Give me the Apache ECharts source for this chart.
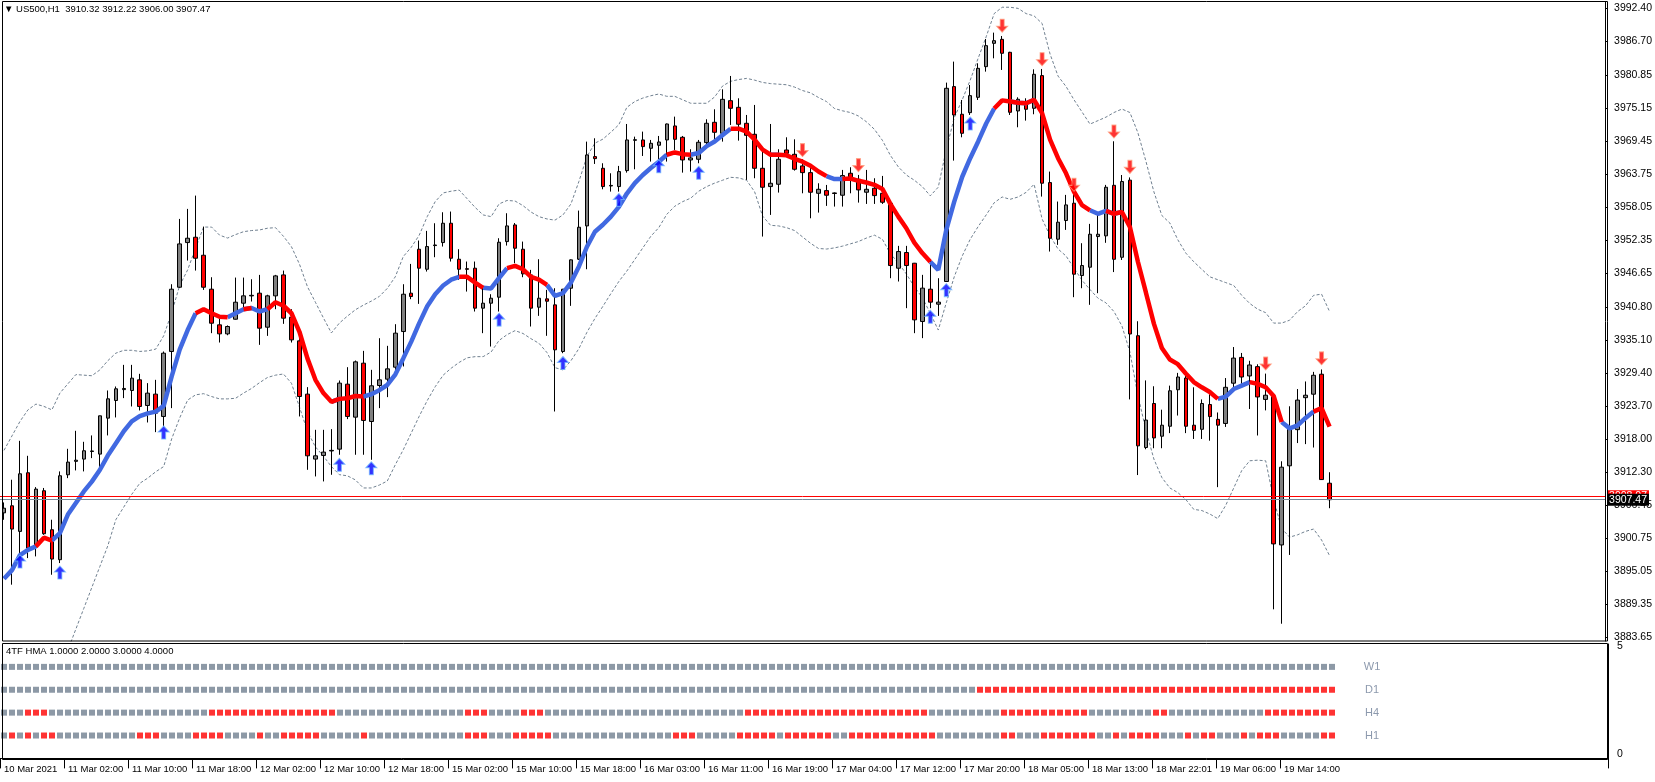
<!DOCTYPE html>
<html>
<head>
<meta charset="utf-8">
<title>US500,H1</title>
<script src="https://cdn.jsdelivr.net/npm/echarts@6/dist/echarts.min.js"></script>
<style>
  html, body { margin: 0; padding: 0; background: #ffffff; }
  #chart { width: 1655px; height: 782px; }
</style>
</head>
<body>
<div id="chart"></div>
<script>
const FONT = '"Liberation Sans", Arial, sans-serif';
const SLOTS = 201; // 167 bars + empty shift area on the right

// time labels, one every 8 bars
const timeLabels = ['10 Mar 2021', '11 Mar 02:00', '11 Mar 10:00', '11 Mar 18:00', '12 Mar 02:00', '12 Mar 10:00',
  '12 Mar 18:00', '15 Mar 02:00', '15 Mar 10:00', '15 Mar 18:00', '16 Mar 03:00', '16 Mar 11:00', '16 Mar 19:00',
  '17 Mar 04:00', '17 Mar 12:00', '17 Mar 20:00', '18 Mar 05:00', '18 Mar 13:00', '18 Mar 22:01', '19 Mar 06:00',
  '19 Mar 14:00'];

const priceTicks = [3992.40, 3986.70, 3980.85, 3975.15, 3969.45, 3963.75, 3958.05, 3952.35, 3946.65, 3940.80,
  3935.10, 3929.40, 3923.70, 3918.00, 3912.30, 3906.45, 3900.75, 3895.05, 3889.35, 3883.65];

const opens = [3905.20, 3906.42, 3901.99, 3912.13, 3899.28, 3909.02, 3902.28, 3897.10, 3911.78, 3914.10,
  3914.49, 3915.80, 3915.35, 3921.57, 3924.62, 3926.50, 3926.35, 3928.19, 3923.76, 3925.72,
  3921.86, 3933.09, 3944.20, 3951.92, 3952.84, 3949.73, 3943.86, 3937.70, 3936.14, 3938.67,
  3941.44, 3942.70, 3943.17, 3937.29, 3942.71, 3946.33, 3939.02, 3934.93, 3925.72, 3914.49,
  3915.12, 3915.90, 3916.21, 3927.44, 3921.74, 3931.07, 3920.99, 3927.21, 3928.31, 3930.38,
  3936.54, 3943.17, 3950.77, 3947.31, 3951.40, 3951.92, 3955.26, 3949.04, 3947.40, 3947.49,
  3940.58, 3941.44, 3942.48, 3952.09, 3954.97, 3950.77, 3946.33, 3940.75, 3942.19, 3941.15,
  3933.09, 3944.03, 3949.04, 3954.80, 3966.78, 3964.76, 3961.70, 3961.60, 3964.36, 3969.60,
  3969.66, 3968.22, 3968.74, 3969.66, 3972.08, 3970.12, 3966.20, 3966.32, 3969.20, 3972.71,
  3970.81, 3976.45, 3975.30, 3972.54, 3970.64, 3964.76, 3961.60, 3962.00, 3967.93, 3967.18,
  3965.17, 3964.01, 3960.44, 3960.90, 3960.50, 3960.10, 3963.90, 3962.86, 3960.62, 3961.31,
  3960.44, 3958.72, 3947.49, 3950.20, 3948.35, 3938.28, 3943.86, 3941.27, 3945.19, 3978.88,
  3974.10, 3974.38, 3977.03, 3982.33, 3986.36, 3987.05, 3984.81, 3974.67, 3976.29, 3975.13,
  3980.78, 3962.29, 3952.50, 3955.73, 3958.72, 3946.22, 3947.66, 3952.96, 3953.08, 3961.82,
  3949.38, 3962.71, 3935.82, 3916.49, 3924.10, 3918.45, 3920.17, 3926.48, 3928.50, 3920.35,
  3919.64, 3923.92, 3921.36, 3920.65, 3927.61, 3932.07, 3928.86, 3930.47, 3924.81, 3925.29,
  3899.65, 3913.33, 3919.58, 3925.11, 3925.71, 3929.16, 3910.32];
const highs = [3907.00, 3910.92, 3917.65, 3915.06, 3909.65, 3909.50, 3904.01, 3912.36, 3916.27, 3919.38,
  3917.48, 3918.58, 3922.00, 3926.35, 3927.04, 3930.78, 3930.78, 3929.23, 3927.62, 3928.19,
  3933.09, 3944.72, 3956.01, 3957.74, 3960.04, 3954.68, 3945.93, 3939.25, 3937.60, 3945.87,
  3945.87, 3945.58, 3946.33, 3942.90, 3946.33, 3947.08, 3940.40, 3935.68, 3926.93, 3919.55,
  3919.55, 3919.67, 3928.08, 3930.38, 3931.53, 3933.20, 3929.92, 3935.39, 3934.07, 3937.81,
  3944.72, 3948.23, 3952.27, 3953.94, 3955.26, 3957.16, 3957.28, 3950.77, 3948.64, 3948.64,
  3944.15, 3942.99, 3952.67, 3956.99, 3955.30, 3952.09, 3947.20, 3949.04, 3943.74, 3944.03,
  3943.90, 3949.00, 3957.45, 3969.37, 3969.95, 3965.63, 3963.90, 3965.17, 3972.42, 3970.23,
  3971.10, 3969.66, 3970.35, 3972.50, 3973.69, 3970.35, 3968.05, 3969.66, 3973.23, 3974.96,
  3978.41, 3980.72, 3976.86, 3973.98, 3975.71, 3968.39, 3972.42, 3968.05, 3970.12, 3969.77,
  3966.32, 3965.17, 3962.17, 3961.88, 3960.60, 3964.48, 3964.94, 3963.61, 3964.48, 3963.04,
  3963.44, 3958.80, 3951.35, 3951.35, 3948.40, 3946.34, 3949.05, 3945.76, 3979.57, 3983.20,
  3976.57, 3979.16, 3982.91, 3987.11, 3988.21, 3987.63, 3984.90, 3977.03, 3976.86, 3981.87,
  3981.93, 3964.19, 3959.01, 3960.16, 3961.60, 3951.81, 3955.15, 3956.99, 3961.89, 3969.43,
  3963.60, 3963.18, 3938.32, 3928.09, 3927.08, 3923.03, 3927.19, 3929.39, 3929.27, 3926.90,
  3924.81, 3925.71, 3922.55, 3928.50, 3933.86, 3932.84, 3931.48, 3930.88, 3929.27, 3925.53,
  3914.11, 3923.62, 3926.60, 3927.91, 3929.57, 3929.99, 3912.22];
const lows = [3904.00, 3892.78, 3897.38, 3897.38, 3897.67, 3901.40, 3894.50, 3896.52, 3911.20, 3912.53,
  3912.36, 3914.66, 3912.64, 3918.58, 3921.69, 3925.03, 3923.59, 3922.90, 3920.82, 3919.15,
  3920.13, 3923.30, 3944.10, 3948.81, 3947.08, 3943.74, 3936.26, 3934.64, 3935.90, 3938.60,
  3940.29, 3941.73, 3934.24, 3935.79, 3940.40, 3937.87, 3934.64, 3921.86, 3912.64, 3911.49,
  3910.63, 3911.78, 3915.24, 3921.40, 3915.24, 3915.24, 3914.37, 3923.30, 3925.20, 3929.06,
  3930.50, 3942.13, 3941.32, 3946.91, 3949.39, 3951.23, 3948.64, 3945.47, 3943.45, 3940.00,
  3936.26, 3933.95, 3940.00, 3951.40, 3948.35, 3945.93, 3937.41, 3939.25, 3935.80, 3922.72,
  3932.80, 3940.98, 3948.90, 3947.31, 3965.51, 3961.13, 3960.73, 3960.73, 3964.01, 3964.59,
  3966.89, 3965.92, 3966.20, 3965.92, 3967.93, 3964.01, 3964.19, 3965.63, 3968.22, 3969.20,
  3969.37, 3972.25, 3969.54, 3962.75, 3963.04, 3952.96, 3956.70, 3960.56, 3966.89, 3964.36,
  3960.44, 3956.12, 3957.10, 3958.26, 3958.14, 3958.14, 3960.44, 3958.83, 3958.60, 3958.60,
  3958.60, 3945.76, 3945.19, 3940.58, 3936.26, 3935.40, 3940.58, 3939.25, 3945.10, 3966.09,
  3970.12, 3973.98, 3976.57, 3981.47, 3983.77, 3981.76, 3973.98, 3971.85, 3973.00, 3974.10,
  3959.87, 3950.37, 3951.52, 3954.11, 3942.48, 3944.03, 3941.16, 3943.17, 3951.88, 3946.82,
  3948.91, 3924.81, 3911.73, 3916.19, 3916.37, 3916.37, 3918.98, 3922.02, 3918.98, 3917.97,
  3917.97, 3917.67, 3909.64, 3920.05, 3926.78, 3927.49, 3923.15, 3918.57, 3922.91, 3888.52,
  3886.03, 3897.92, 3917.26, 3917.08, 3916.49, 3910.90, 3906.00];
const closes = [3906.00, 3902.39, 3911.95, 3899.11, 3909.30, 3901.59, 3897.21, 3911.61, 3913.97, 3914.30,
  3915.93, 3915.90, 3921.97, 3924.91, 3926.64, 3926.70, 3928.48, 3923.59, 3925.89, 3922.43,
  3932.80, 3943.86, 3951.69, 3952.67, 3949.21, 3944.20, 3937.98, 3936.14, 3937.41, 3941.61,
  3942.71, 3942.80, 3937.12, 3942.71, 3946.16, 3938.85, 3935.10, 3925.31, 3915.06, 3915.06,
  3915.70, 3916.00, 3927.62, 3921.86, 3931.30, 3921.17, 3927.16, 3928.19, 3930.09, 3936.26,
  3942.99, 3942.59, 3947.49, 3951.23, 3951.50, 3955.26, 3949.21, 3947.31, 3947.30, 3940.58,
  3941.44, 3942.30, 3951.98, 3954.80, 3950.94, 3946.51, 3940.58, 3942.30, 3941.78, 3933.38,
  3943.86, 3948.93, 3954.57, 3967.07, 3966.43, 3961.60, 3961.80, 3964.19, 3969.66, 3969.70,
  3968.51, 3969.08, 3969.31, 3972.42, 3969.77, 3966.20, 3966.55, 3969.26, 3972.54, 3970.98,
  3976.68, 3975.13, 3972.37, 3970.46, 3964.76, 3961.48, 3962.17, 3966.32, 3967.35, 3964.59,
  3964.01, 3960.62, 3961.13, 3960.10, 3960.40, 3963.50, 3962.75, 3961.02, 3961.13, 3960.04,
  3958.89, 3947.95, 3950.37, 3947.95, 3938.56, 3944.04, 3941.62, 3941.62, 3978.59, 3973.98,
  3970.81, 3977.32, 3982.04, 3985.96, 3986.82, 3984.64, 3974.44, 3976.69, 3974.96, 3981.01,
  3962.18, 3952.67, 3955.44, 3958.43, 3946.45, 3947.95, 3953.36, 3953.36, 3961.48, 3949.03,
  3962.47, 3936.12, 3916.78, 3921.24, 3918.15, 3920.35, 3926.30, 3928.68, 3920.17, 3919.46,
  3924.10, 3921.84, 3920.35, 3926.90, 3931.95, 3928.68, 3930.76, 3925.23, 3925.53, 3899.83,
  3913.09, 3919.88, 3924.69, 3925.53, 3928.98, 3910.95, 3907.47];

// thick HMA line and its colour runs (u = rising/blue, d = falling/red)
const hmaValues = [3893.8, 3895.3, 3897.9, 3898.8, 3899.4, 3900.9, 3900.4, 3901.7, 3904.9, 3906.9,
  3908.9, 3910.6, 3912.6, 3915.1, 3917.2, 3919.3, 3921.0, 3921.9, 3922.4, 3922.7,
  3923.7, 3928.8, 3933.4, 3936.8, 3939.7, 3940.4, 3939.7, 3939.1, 3939.0, 3939.7,
  3940.4, 3940.6, 3940.0, 3940.4, 3941.6, 3941.0, 3939.7, 3936.5, 3931.9, 3928.2,
  3925.9, 3924.4, 3924.9, 3925.0, 3925.4, 3925.3, 3925.7, 3926.4, 3927.3, 3929.1,
  3931.9, 3934.8, 3938.0, 3940.9, 3943.0, 3944.5, 3945.5, 3946.0, 3946.0, 3945.0,
  3944.1, 3944.0, 3945.8, 3947.5, 3947.9, 3947.3, 3946.0, 3945.5, 3944.6, 3942.7,
  3943.2, 3945.0, 3947.8, 3951.2, 3953.8, 3955.0, 3956.4, 3958.1, 3960.4, 3962.2,
  3963.6, 3964.8, 3965.9, 3967.1, 3967.5, 3967.2, 3967.1, 3967.4, 3968.6, 3969.4,
  3970.5, 3971.6, 3971.6, 3971.1, 3969.7, 3968.0, 3967.1, 3967.1, 3967.0, 3966.4,
  3965.9, 3965.2, 3964.2, 3963.4, 3962.9, 3962.9, 3963.0, 3962.6, 3962.3, 3961.9,
  3961.2, 3958.6, 3956.4, 3954.4, 3951.9, 3950.1, 3948.6, 3947.2, 3954.1, 3959.0,
  3963.3, 3966.5, 3969.4, 3972.5, 3975.1, 3976.5, 3976.3, 3976.1, 3976.0, 3976.6,
  3974.3, 3969.7, 3966.5, 3963.9, 3960.7, 3958.4, 3957.5, 3956.9, 3957.4, 3956.9,
  3957.2, 3954.6, 3948.6, 3943.3, 3937.9, 3933.7, 3931.7, 3930.9, 3929.3, 3927.8,
  3926.9, 3926.1, 3924.9, 3925.3, 3926.6, 3927.2, 3927.8, 3927.5, 3926.9, 3925.4,
  3920.9, 3919.8, 3920.3, 3921.6, 3922.7, 3923.3, 3920.1];
const hmaRuns = [['u', 5], ['d', 2], ['u', 18], ['d', 4], ['u', 2], ['d', 1], ['u', 2], ['d', 8], ['u', 1],
  ['d', 3], ['u', 12], ['d', 3], ['u', 3], ['d', 5], ['u', 15], ['d', 3], ['u', 5], ['d', 5], ['u', 1],
  ['d', 6], ['u', 2], ['d', 11], ['u', 8], ['d', 2], ['u', 1], ['d', 1], ['u', 1], ['d', 7], ['u', 2],
  ['d', 1], ['u', 1], ['d', 12], ['u', 4], ['d', 4], ['u', 4], ['d', 2]];

// dotted envelope
const upperBand = [3916.0, 3918.5, 3921.0, 3923.0, 3924.0, 3923.6, 3923.0, 3925.9, 3927.5, 3929.1,
  3929.0, 3928.9, 3929.9, 3931.5, 3932.8, 3933.3, 3933.3, 3933.1, 3933.2, 3933.5,
  3935.8, 3939.8, 3944.5, 3947.2, 3951.0, 3954.6, 3954.6, 3953.2, 3952.7, 3953.3,
  3953.8, 3954.0, 3954.1, 3954.4, 3954.5, 3953.0, 3951.2, 3948.2, 3944.3, 3941.6,
  3938.9, 3936.3, 3938.0, 3939.2, 3940.3, 3941.1, 3941.8, 3942.6, 3944.0, 3946.0,
  3949.5, 3951.1, 3953.2, 3956.4, 3959.0, 3960.5, 3960.8, 3961.0, 3959.5, 3958.0,
  3956.7, 3956.4, 3958.6, 3959.2, 3959.1, 3958.3, 3957.2, 3956.4, 3956.0, 3955.8,
  3956.7, 3958.6, 3962.5, 3966.8, 3969.1, 3969.8, 3971.0, 3972.3, 3975.3, 3976.3,
  3976.9, 3977.3, 3977.6, 3977.2, 3977.2, 3976.6, 3976.0, 3976.0, 3976.0, 3977.1,
  3979.0, 3979.8, 3980.1, 3980.3, 3980.0, 3979.6, 3979.4, 3979.3, 3979.2, 3978.8,
  3978.2, 3977.8, 3977.0, 3976.3, 3975.1, 3974.7, 3974.4, 3973.8, 3972.8, 3971.5,
  3969.6, 3967.0, 3965.0, 3963.6, 3962.7, 3961.6, 3960.0, 3961.5, 3968.0, 3973.5,
  3976.6, 3980.0, 3983.8, 3987.5, 3991.5, 3992.6, 3992.6, 3992.4, 3991.5, 3991.1,
  3989.8, 3984.5, 3980.7, 3978.9, 3976.6, 3974.5, 3972.4, 3973.0, 3973.6, 3974.4,
  3975.0, 3974.4, 3970.9, 3966.0, 3960.7, 3956.6, 3955.3, 3952.4, 3950.1, 3948.6,
  3947.3, 3946.0, 3945.5, 3945.0, 3944.5, 3942.8, 3941.4, 3940.4, 3939.8, 3938.0,
  3938.0, 3938.5, 3940.0, 3941.0, 3942.8, 3943.0, 3940.0];
const lowerBand = [null, null, null, null, null, null, null, 3878.0, 3881.5, 3885.1,
  3888.7, 3892.3, 3895.9, 3899.5, 3904.0, 3906.2, 3908.4, 3910.3, 3911.2, 3912.3,
  3913.2, 3918.0, 3921.6, 3924.7, 3925.6, 3925.8, 3925.3, 3924.9, 3924.9, 3925.0,
  3925.9, 3926.7, 3927.7, 3928.6, 3929.0, 3929.2, 3927.6, 3923.5, 3919.3, 3916.6,
  3915.0, 3913.2, 3911.8, 3911.6, 3910.9, 3909.5, 3909.5, 3910.0, 3910.7, 3913.5,
  3916.1, 3919.0, 3921.9, 3924.6, 3927.0, 3929.0, 3930.2, 3931.2, 3932.0, 3932.2,
  3932.2, 3933.0, 3935.0, 3936.0, 3936.7, 3936.2, 3935.3, 3934.5, 3932.9, 3930.3,
  3929.9, 3931.5, 3933.6, 3936.4, 3938.8, 3940.9, 3943.1, 3945.2, 3947.0, 3949.0,
  3951.0, 3953.0, 3954.5, 3956.8, 3958.2, 3959.0, 3959.6, 3960.8, 3961.6, 3962.2,
  3962.7, 3963.2, 3963.1, 3962.7, 3960.7, 3956.5, 3954.9, 3954.8, 3954.5, 3954.0,
  3952.9, 3951.8, 3950.9, 3950.8, 3951.0, 3951.3, 3951.7, 3952.1, 3952.7, 3953.2,
  3952.5, 3950.0, 3948.4, 3946.5, 3944.3, 3942.4, 3939.7, 3936.8, 3941.5, 3946.0,
  3949.6, 3952.5, 3954.7, 3956.7, 3958.8, 3959.8, 3959.4, 3959.8, 3960.6, 3962.0,
  3956.0, 3953.1, 3950.8, 3949.6, 3947.5, 3945.4, 3943.8, 3942.3, 3941.5, 3940.0,
  3937.5, 3933.0, 3925.5, 3919.5, 3914.5, 3911.3, 3909.5, 3908.7, 3907.5, 3905.8,
  3905.6, 3905.0, 3904.2, 3906.5, 3909.5, 3912.5, 3914.2, 3914.3, 3914.2, 3907.5,
  3902.5, 3901.0, 3901.4, 3902.0, 3902.4, 3900.5, 3897.8];

// signal arrows: [bar index, price]
const upArrows = [[2, 3896.8], [7, 3894.9], [20, 3919.1], [42, 3913.5], [46, 3912.9], [62, 3938.6],
  [70, 3931.1], [77, 3959.3], [82, 3965.1], [87, 3964.0], [116, 3939.1], [118, 3943.7], [121, 3972.5]];
const downArrows = [[100, 3967.9], [107, 3965.3], [125, 3989.4], [130, 3983.6], [134, 3961.9],
  [139, 3971.1], [141, 3965.0], [158, 3931.0], [165, 3931.9]];

const bidPrice = 3907.47;
const askPrice = 3908.07;

// 4TF HMA panel: runs of g (grey) / r (red) per row
const rowNames = ['W1', 'D1', 'H4', 'H1'];
const w1Runs = [['g', 167]];
const d1Runs = [['g', 122], ['r', 45]];
const h4Runs = [['g', 3], ['r', 3], ['g', 20], ['r', 16], ['g', 16], ['r', 3], ['g', 4], ['r', 3], ['g', 25],
  ['r', 23], ['g', 9], ['r', 11], ['g', 8], ['r', 2], ['g', 12], ['r', 9]];
const h1Runs = [['g', 1], ['r', 1], ['g', 1], ['r', 1], ['g', 1], ['r', 2], ['g', 10], ['r', 3], ['g', 4], ['r', 4],
  ['g', 4], ['r', 1], ['g', 2], ['r', 5], ['g', 5], ['r', 1], ['g', 12], ['r', 3], ['g', 3], ['r', 5], ['g', 15],
  ['r', 3], ['g', 5], ['r', 5], ['g', 1], ['r', 6], ['g', 2], ['r', 11], ['g', 8], ['r', 2], ['g', 3], ['r', 7],
  ['g', 2], ['r', 1], ['g', 1], ['r', 4], ['g', 3], ['r', 1], ['g', 1], ['r', 2], ['g', 3], ['r', 1], ['g', 1],
  ['r', 3], ['g', 5], ['r', 2]];

const expand = (runs) => {
  const out = [];
  runs.forEach(([k, n]) => { for (let j = 0; j < n; j++) out.push(k); });
  return out;
};

const slots = Array.from({length: SLOTS}, (_, i) => String(i));
const hmaDir = expand(hmaRuns);
const hmaUp = hmaValues.map((v, i) => (hmaDir[i] === 'u' || hmaDir[i + 1] === 'u') ? v : null);
const hmaDown = hmaValues.map((v, i) => (hmaDir[i] === 'd' || hmaDir[i + 1] === 'd') ? v : null);

const rowSeries = [w1Runs, d1Runs, h4Runs, h1Runs].map((runs, r) => ({
  type: 'scatter',
  xAxisIndex: 1,
  yAxisIndex: 1,
  symbol: 'rect',
  symbolSize: [6, 6],
  silent: true,
  data: expand(runs).map((k, i) => ({
    value: [i, 4 - r],
    itemStyle: {color: k === 'r' ? '#ff0000' : '#708090'}
  }))
}));

const labelTick = (i) => i % 8 === 0 && i / 8 < timeLabels.length;

const chart = echarts.init(document.getElementById('chart'));
chart.setOption({
  animation: false,
  backgroundColor: '#ffffff',
  textStyle: {fontFamily: FONT},
  title: [
    {
      text: '\u25BC US500,H1  3910.32 3912.22 3906.00 3907.47',
      left: 4, top: 4, padding: 0,
      textStyle: {fontSize: 9.5, fontWeight: 'normal', color: '#000', fontFamily: FONT}
    },
    {
      text: '4TF HMA 1.0000 2.0000 3.0000 4.0000',
      left: 6, top: 646, padding: 0,
      textStyle: {fontSize: 9.5, fontWeight: 'normal', color: '#000', fontFamily: FONT}
    }
  ],
  grid: [
    {left: 0, top: 2, width: 1608, height: 639},
    {left: 0, top: 644, width: 1608, height: 116}
  ],
  xAxis: [
    {
      gridIndex: 0, type: 'category', data: slots, boundaryGap: true,
      axisLine: {show: false}, axisTick: {show: false}, axisLabel: {show: false}, splitLine: {show: false}
    },
    {
      gridIndex: 1, type: 'category', data: slots, boundaryGap: true,
      axisLine: {show: true, lineStyle: {color: '#000'}},
      axisTick: {show: true, interval: labelTick, length: 10, lineStyle: {color: '#000'}},
      axisLabel: {
        show: true, interval: labelTick, align: 'left', margin: 4,
        fontSize: 9.5, color: '#000', fontFamily: FONT,
        formatter: (v) => timeLabels[Number(v) / 8] || ''
      },
      splitLine: {show: false}
    }
  ],
  yAxis: [
    {
      gridIndex: 0, type: 'value', position: 'right', min: 3883.045, max: 3993.506,
      splitLine: {show: false},
      axisLine: {show: true, lineStyle: {color: '#000'}},
      axisTick: {show: true, customValues: priceTicks, length: 3, lineStyle: {color: '#000'}},
      axisLabel: {
        customValues: priceTicks, margin: 9, fontSize: 10.5, color: '#000', fontFamily: FONT,
        formatter: (v) => v.toFixed(2)
      }
    },
    {
      gridIndex: 1, type: 'value', position: 'right', min: -0.07, max: 5,
      splitLine: {show: false},
      axisLine: {show: true, lineStyle: {color: '#000'}},
      axisTick: {show: false},
      axisLabel: {
        customValues: [0, 5], margin: 9, fontSize: 10.5, color: '#000', fontFamily: FONT,
        formatter: (v) => v >= 5 ? '{t|5}' : '{b|0}',
        rich: {t: {padding: [4, 0, 0, 0]}, b: {padding: [0, 0, 9, 0]}}
      }
    }
  ],
  series: [
    {
      name: 'upper', type: 'line', xAxisIndex: 0, yAxisIndex: 0, data: upperBand,
      symbol: 'none', silent: true, z: 2,
      lineStyle: {color: '#708090', width: 1, type: [3, 2]}
    },
    {
      name: 'lower', type: 'line', xAxisIndex: 0, yAxisIndex: 0, data: lowerBand,
      symbol: 'none', silent: true, z: 2,
      lineStyle: {color: '#708090', width: 1, type: [3, 2]}
    },
    {
      name: 'US500', type: 'candlestick', xAxisIndex: 0, yAxisIndex: 0, barWidth: 4, z: 3,
      data: opens.map((o, i) => [o, closes[i], lows[i], highs[i]]),
      itemStyle: {color: '#808080', color0: '#ff0000', borderColor: '#000', borderColor0: '#000', borderWidth: 1},
      markLine: {
        symbol: 'none', silent: true, animation: false,
        data: [
          {
            yAxis: askPrice, lineStyle: {color: '#ff0000', width: 1, type: 'solid'},
            label: {show: true, position: 'end', distance: 2, formatter: askPrice.toFixed(2), color: '#fff',
              backgroundColor: '#ff0000', padding: [1, 2, 0, 2], fontSize: 10.5, fontFamily: FONT}
          },
          {
            yAxis: bidPrice, lineStyle: {color: '#778899', width: 1, type: 'solid'},
            label: {show: true, position: 'end', distance: 2, formatter: bidPrice.toFixed(2), color: '#fff',
              backgroundColor: '#000', padding: [1, 2, 0, 2], fontSize: 10.5, fontFamily: FONT}
          }
        ]
      }
    },
    {
      name: 'HMA up', type: 'line', xAxisIndex: 0, yAxisIndex: 0, data: hmaUp,
      symbol: 'none', silent: true, z: 4, lineStyle: {color: '#4169e1', width: 4.5}
    },
    {
      name: 'HMA down', type: 'line', xAxisIndex: 0, yAxisIndex: 0, data: hmaDown,
      symbol: 'none', silent: true, z: 4, lineStyle: {color: '#ff0000', width: 4.5}
    },
    {
      name: 'buy', type: 'scatter', xAxisIndex: 0, yAxisIndex: 0, data: upArrows, z: 5, silent: true,
      symbol: 'path://M5.5,0 L11,6 L7.5,6 L7.5,13 L3.5,13 L3.5,6 L0,6 Z', symbolSize: [11, 13],
      itemStyle: {color: '#0000ff', borderColor: '#6fb7ff', borderWidth: 1}
    },
    {
      name: 'sell', type: 'scatter', xAxisIndex: 0, yAxisIndex: 0, data: downArrows, z: 5, silent: true,
      symbol: 'path://M3.5,0 L7.5,0 L7.5,7 L11,7 L5.5,13 L0,7 L3.5,7 Z', symbolSize: [11, 13],
      itemStyle: {color: '#ff0000', borderColor: '#ff9a7a', borderWidth: 1}
    },
    ...rowSeries,
    {
      name: 'rows', type: 'scatter', xAxisIndex: 1, yAxisIndex: 1, symbolSize: 1, silent: true,
      itemStyle: {color: 'rgba(0,0,0,0)'},
      data: rowNames.map((n, r) => ({value: [171, 4 - r], name: n})),
      label: {show: true, position: 'inside', formatter: (p) => p.name, color: '#6f7f98', fontSize: 11, fontFamily: FONT}
    }
  ],
  graphic: [
    {type: 'rect', silent: true, z: 10, shape: {x: 2.5, y: 1.5, width: 1605, height: 639.5},
      style: {fill: 'none', stroke: '#000', lineWidth: 1}},
    {type: 'rect', silent: true, z: 10, shape: {x: 2.5, y: 643.5, width: 1605, height: 116},
      style: {fill: 'none', stroke: '#000', lineWidth: 1}}
  ]
});
</script>
</body>
</html>
